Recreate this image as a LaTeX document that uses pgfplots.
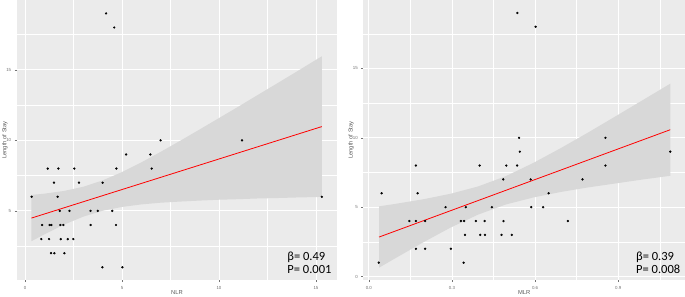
\documentclass[border=0pt]{standalone}
\usepackage{fontspec}
\setmainfont{Liberation Sans}
\newfontfamily\calib{Carlito}
\usepackage{pgfplots}
\pgfplotsset{compat=1.18}
\definecolor{panelbg}{RGB}{235,235,235}
\definecolor{ribbon}{RGB}{216,216,216}
\definecolor{ticktext}{RGB}{115,115,115}
\definecolor{titletext}{RGB}{90,90,90}
\pgfplotsset{gg/.style={
  scale only axis, height=280pt,
  axis background/.style={fill=panelbg},
  axis line style={draw=none},
  grid=both,
  major grid style={white, line width=0.8pt},
  minor grid style={white, line width=0.4pt},
  tick align=outside, xtick pos=lower, ytick pos=left,
  major tick length=2pt, minor tick length=0pt,
  tick style={ticktext, line width=0.4pt},
  ticklabel style={font=\fontsize{4.4}{5}\selectfont, text=ticktext},
  xticklabel style={yshift=-1pt},
  /pgf/number format/assume math mode=true,
  label style={font=\fontsize{5.8}{6.5}\selectfont, text=titletext},
  x label style={at={(axis description cs:0.5,0)}, anchor=center, yshift=-13pt},
}}
\begin{document}
\begin{tikzpicture}
\useasboundingbox (0,0) rectangle (685pt,297pt);
% ---------------- Left panel: NLR ----------------
\begin{axis}[gg, at={(16.7pt,17pt)}, anchor=south west, width=320.6pt,
  xmin=-0.43, xmax=16.1, ymin=0.1, ymax=19.95,
  xtick={0,5,10,15}, minor xtick={2.5,7.5,12.5},
  ytick={5,10,15}, minor ytick={2.5,7.5,12.5,17.5},
  xlabel={NLR}, ylabel={Length of Stay},
  y label style={at={(axis description cs:-0.0365,0.5)}, anchor=center},
]
\addplot[fill=ribbon, draw=none] coordinates {
 (0.33,6.13) (1,6.22) (2,6.41) (3,6.71) (4,7.16) (5,7.75) (6,8.44) (7,9.19) (8,9.97) (9,10.77) (10,11.58) (11,12.39) (12,13.22) (13,14.04) (14,14.87) (15.3,15.96)
 (15.3,5.99) (14,5.95) (13,5.91) (12,5.88) (11,5.83) (10,5.79) (9,5.73) (8,5.66) (7,5.58) (6,5.46) (5,5.28) (4,5.01) (3,4.59) (2,4.02) (1,3.34) (0.33,2.85)
} -- cycle;
\addplot[red, line width=0.8pt] coordinates {(0.33,4.49) (15.3,10.975)};
\addplot[only marks, mark=*, mark size=0.95pt, black] coordinates {
 (4.18,19) (4.6,18)
 (0.34,6) (1.68,6) (15.3,6)
 (1.17,8) (1.72,8) (2.54,8) (4.71,8) (6.53,8)
 (1.49,7) (2.78,7) (4.0,7)
 (5.21,9) (6.46,9)
 (6.99,10) (11.19,10)
 (1.79,5) (2.29,5) (3.38,5) (3.75,5) (4.5,5)
 (0.88,4) (1.27,4) (1.36,4) (1.82,4) (1.98,4) (3.38,4) (4.69,4)
 (0.84,3) (1.24,3) (1.84,3) (2.2,3) (2.49,3)
 (1.34,2) (1.51,2) (2.03,2)
 (3.99,1) (5.02,1)
};
\node[anchor=base west, inner sep=0pt, font=\calib\fontsize{12.5}{13}\selectfont] at (axis cs:13.52,1.51) {β= 0.49};
\node[anchor=base west, inner sep=0pt, font=\calib\fontsize{12.5}{13}\selectfont] at (axis cs:13.52,0.57) {P= 0.001};
\end{axis}
% ---------------- Right panel: MLR ----------------
\begin{axis}[gg, at={(363.3pt,17pt)}, anchor=south west, width=321.7pt,
  xmin=-0.02, xmax=1.141, ymin=-0.25, ymax=19.93,
  xtick={0,0.3,0.6,0.9}, minor xtick={0.15,0.45,0.75,1.05},
  ytick={0,5,10,15}, minor ytick={2.5,7.5,12.5,17.5},
  xticklabel style={/pgf/number format/.cd, fixed, fixed zerofill, precision=1},
  xlabel={MLR}, ylabel={Length of Stay},
  y label style={at={(axis description cs:-0.038,0.5)}, anchor=center},
]
\addplot[fill=ribbon, draw=none] coordinates {
 (0.037,5.06) (0.094,5.23) (0.194,5.56) (0.294,5.96) (0.394,6.49) (0.494,7.23) (0.594,8.19) (0.694,9.27) (0.794,10.41) (0.894,11.59) (0.994,12.78) (1.088,13.90)
 (1.088,7.26) (0.994,7.01) (0.894,6.72) (0.794,6.43) (0.694,6.10) (0.594,5.70) (0.494,5.19) (0.394,4.46) (0.294,3.52) (0.194,2.44) (0.094,1.30) (0.037,0.64)
} -- cycle;
\addplot[red, line width=0.8pt] coordinates {(0.037,2.846) (1.088,10.582)};
\addplot[only marks, mark=*, mark size=0.95pt, black] coordinates {
 (0.536,19) (0.602,18)
 (0.542,10) (0.854,10)
 (0.545,9) (1.088,9)
 (0.170,8) (0.400,8) (0.496,8) (0.535,8) (0.854,8)
 (0.485,7) (0.584,7) (0.771,7)
 (0.046,6) (0.176,6) (0.649,6)
 (0.277,5) (0.350,5) (0.444,5) (0.586,5) (0.629,5)
 (0.146,4) (0.170,4) (0.203,4) (0.332,4) (0.344,4) (0.386,4) (0.418,4) (0.486,4) (0.718,4)
 (0.347,3) (0.402,3) (0.419,3) (0.479,3) (0.516,3)
 (0.170,2) (0.203,2) (0.296,2)
 (0.036,1) (0.342,1)
};
\node[anchor=base west, inner sep=0pt, font=\calib\fontsize{12.5}{13}\selectfont] at (axis cs:0.964,1.15) {β= 0.39};
\node[anchor=base west, inner sep=0pt, font=\calib\fontsize{12.5}{13}\selectfont] at (axis cs:0.964,0.245) {P= 0.008};
\end{axis}
\end{tikzpicture}
\end{document}
